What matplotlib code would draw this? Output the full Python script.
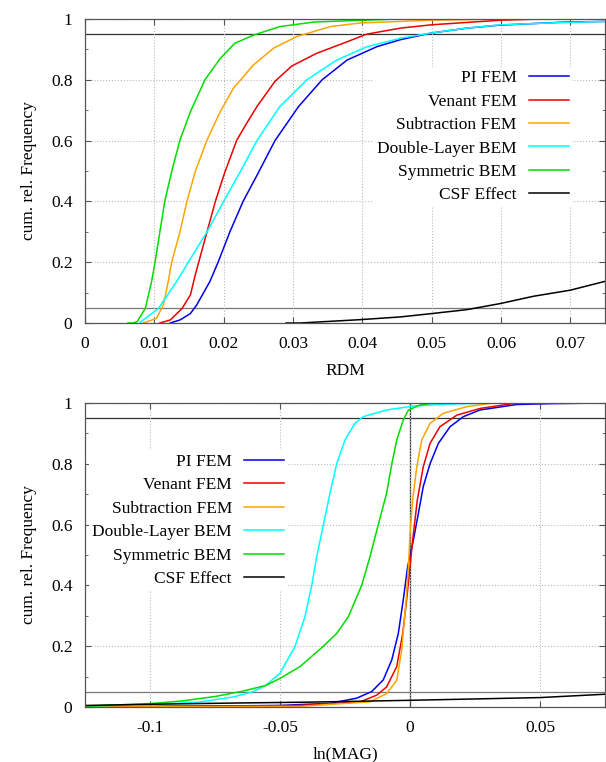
import matplotlib
matplotlib.use('Agg')
import matplotlib.pyplot as plt
from matplotlib.ticker import MultipleLocator, FixedLocator

plt.rcParams['font.family'] = ['Liberation Serif', 'DejaVu Serif']
plt.rcParams['axes.unicode_minus'] = False

labels = ['PI FEM', 'Venant FEM', 'Subtraction FEM', 'Double-Layer BEM', 'Symmetric BEM', 'CSF Effect']
colors = ['#0000ee', '#ee0000', '#ffa500', '#00ffff', '#00dd00', '#000000']

# ---- top panel: RDM (x values, cumulative frequency) ----
rdm_pi_x = [0.0123, 0.0137, 0.0152, 0.0161, 0.018, 0.0192, 0.0209, 0.0228, 0.0249, 0.0274, 0.0308,
            0.0342, 0.0378, 0.0421, 0.0455, 0.050, 0.0551, 0.0599, 0.0695, 0.075]
rdm_pi_f = [0.0, 0.01, 0.031, 0.059, 0.136, 0.2, 0.3, 0.4, 0.49, 0.6, 0.712,
            0.8, 0.865, 0.909, 0.932, 0.954, 0.97, 0.98, 0.99, 0.992]

rdm_venant_x = [0.0108, 0.0123, 0.014, 0.0152, 0.0159, 0.0164, 0.0176, 0.0188, 0.0202, 0.0219, 0.0234,
                0.0248, 0.0274, 0.0298, 0.0334, 0.0378, 0.0406, 0.0455, 0.050, 0.0599, 0.066, 0.075]
rdm_venant_f = [0.0, 0.01, 0.048, 0.092, 0.158, 0.2, 0.3, 0.4, 0.498, 0.602, 0.66,
                0.712, 0.795, 0.845, 0.887, 0.925, 0.95, 0.97, 0.981, 0.996, 1.0, 1.0]

rdm_sub_x = [0.0084, 0.0103, 0.0113, 0.012, 0.0125, 0.0137, 0.0147, 0.0159, 0.0176, 0.0195, 0.0214,
             0.0243, 0.0272, 0.0305, 0.0354, 0.0397, 0.050, 0.060, 0.075]
rdm_sub_f = [0.0, 0.015, 0.059, 0.136, 0.2, 0.3, 0.4, 0.498, 0.602, 0.695, 0.772,
             0.849, 0.904, 0.942, 0.975, 0.987, 0.996, 1.0, 1.0]

rdm_dl_x = [0.0079, 0.0084, 0.0106, 0.0132, 0.0149, 0.0176, 0.02, 0.0224, 0.0248, 0.0281, 0.032,
            0.0363, 0.0407, 0.0435, 0.0455, 0.050, 0.0551, 0.0599, 0.0695, 0.075]
rdm_dl_f = [0.0, 0.01, 0.048, 0.136, 0.2, 0.3, 0.4, 0.498, 0.6, 0.712, 0.8,
            0.865, 0.909, 0.925, 0.937, 0.954, 0.97, 0.981, 0.989, 0.992]

rdm_sym_x = [0.0062, 0.0069, 0.0075, 0.0087, 0.0096, 0.0101, 0.0108, 0.0115, 0.0125, 0.0137, 0.0152,
             0.0173, 0.0195, 0.0216, 0.0243, 0.0281, 0.033, 0.045, 0.075]
rdm_sym_f = [0.0, 0.0, 0.004, 0.048, 0.136, 0.2, 0.3, 0.4, 0.498, 0.602, 0.695,
             0.8, 0.87, 0.92, 0.947, 0.975, 0.99, 1.0, 1.0]

rdm_csf_x = [0.029, 0.031, 0.0397, 0.0455, 0.050, 0.0551, 0.0599, 0.0647, 0.070, 0.075]
rdm_csf_f = [0.0, 0.0, 0.011, 0.02, 0.031, 0.044, 0.064, 0.088, 0.108, 0.137]

# ---- bottom panel: ln(MAG) ----
mag_pi_x = [-0.125, -0.05, -0.0425, -0.0308, -0.0205, -0.0147, -0.0103, -0.007, -0.0045, -0.0026, -0.0009,
            0.0013, 0.0032, 0.0051, 0.0077, 0.0109, 0.0154, 0.0205, 0.0269, 0.041, 0.055, 0.075]
mag_pi_f = [0.0, 0.005, 0.008, 0.012, 0.029, 0.051, 0.089, 0.155, 0.242, 0.352, 0.462,
            0.549, 0.636, 0.725, 0.80, 0.867, 0.922, 0.955, 0.977, 0.995, 0.998, 1.0]

mag_venant_x = [-0.125, -0.0425, -0.0192, -0.0128, -0.009, -0.0051, -0.0028, -0.0013, 0.0, 0.0013,
                0.0028, 0.0051, 0.0077, 0.0115, 0.018, 0.0269, 0.041, 0.075]
mag_venant_f = [0.0, 0.005, 0.017, 0.039, 0.066, 0.133, 0.242, 0.352, 0.462, 0.57,
                0.68, 0.79, 0.867, 0.922, 0.96, 0.982, 1.0, 1.0]

mag_sub_x = [-0.125, -0.0425, -0.0154, -0.009, -0.0051, -0.0032, -0.0015, -0.0006, 0.0, 0.001,
             0.0026, 0.0045, 0.0077, 0.0128, 0.0218, 0.032, 0.075]
mag_sub_f = [0.0, 0.002, 0.017, 0.044, 0.088, 0.187, 0.352, 0.462, 0.57, 0.68,
             0.79, 0.878, 0.933, 0.966, 0.988, 1.0, 1.0]

mag_dl_x = [-0.125, -0.1, -0.081, -0.068, -0.0605, -0.0555, -0.05, -0.0442, -0.0404, -0.0378, -0.0359,
            -0.0333, -0.0308, -0.0282, -0.025, -0.0212, -0.018, -0.009, 0.0013, 0.014, 0.03, 0.075]
mag_dl_f = [0.003, 0.008, 0.016, 0.033, 0.05, 0.071, 0.111, 0.2, 0.297, 0.4, 0.494,
            0.6, 0.703, 0.80, 0.878, 0.933, 0.955, 0.977, 0.99, 0.996, 1.0, 1.0]

mag_sym_x = [-0.125, -0.1, -0.0875, -0.0747, -0.0644, -0.0554, -0.05, -0.0423, -0.0333, -0.0282, -0.0237,
             -0.0186, -0.0154, -0.0122, -0.009, -0.007, -0.0051, -0.0026, -0.0006, 0.0038, 0.009, 0.075]
mag_sym_f = [0.003, 0.011, 0.02, 0.035, 0.052, 0.071, 0.094, 0.133, 0.2, 0.242, 0.297,
             0.4, 0.494, 0.6, 0.703, 0.80, 0.878, 0.944, 0.977, 0.993, 1.0, 1.0]

mag_csf_x = [-0.125, -0.1, -0.068, -0.0387, 0.0, 0.05, 0.075]
mag_csf_f = [0.005, 0.009, 0.013, 0.016, 0.022, 0.031, 0.042]

top_series = [(rdm_pi_x, rdm_pi_f), (rdm_venant_x, rdm_venant_f), (rdm_sub_x, rdm_sub_f),
              (rdm_dl_x, rdm_dl_f), (rdm_sym_x, rdm_sym_f), (rdm_csf_x, rdm_csf_f)]
bottom_series = [(mag_pi_x, mag_pi_f), (mag_venant_x, mag_venant_f), (mag_sub_x, mag_sub_f),
                 (mag_dl_x, mag_dl_f), (mag_sym_x, mag_sym_f), (mag_csf_x, mag_csf_f)]

W, H = 606, 762
fig = plt.figure(figsize=(W / 100, H / 100), dpi=100)
ax1 = fig.add_axes([85 / W, 1 - 323 / H, 520 / W, 304 / H])
ax2 = fig.add_axes([85 / W, 1 - 707 / H, 520 / W, 304 / H])


def style_axes(ax):
    ax.set_ylim(0, 1)
    ax.yaxis.set_major_locator(MultipleLocator(0.2))
    ax.yaxis.set_minor_locator(MultipleLocator(0.1))
    ax.yaxis.set_major_formatter(plt.FuncFormatter(lambda v, p: f'{v:g}'))
    ax.xaxis.set_major_formatter(plt.FuncFormatter(lambda v, p: f'{v:g}'))
    ax.grid(True, color='#bbbbbb', linestyle=':', linewidth=0.8)
    ax.tick_params(which='both', direction='in', top=True, right=True, labelsize=12.5, color='#555555')
    ax.tick_params(which='major', length=4, pad=9)
    ax.tick_params(which='minor', length=2.5)
    for s in ax.spines.values():
        s.set_color('#555555')
        s.set_linewidth(0.9)
    ax.axhline(0.05, color='#777777', lw=0.9, zorder=1)
    ax.axhline(0.95, color='#333333', lw=0.9, zorder=1)
    ax.set_ylabel('cum. rel. Frequency', fontsize=12.5, labelpad=10)


def add_legend(ax, right, top):
    leg = ax.legend(loc='upper right', bbox_to_anchor=(right, top), markerfirst=False, frameon=True,
                    fontsize=12.5, handlelength=2.3, handletextpad=0.7, labelspacing=0.42,
                    borderpad=0.2)
    leg.get_frame().set_facecolor('white')
    leg.get_frame().set_edgecolor('none')
    leg.get_frame().set_alpha(1)


# top panel
style_axes(ax1)
ax1.set_xlim(0, 0.075)
ax1.xaxis.set_major_locator(FixedLocator([0, 0.01, 0.02, 0.03, 0.04, 0.05, 0.06, 0.07]))
for (x, f), lab, c in zip(top_series, labels, colors):
    ax1.plot(x, f, color=c, lw=1.1, label=lab)
ax1.set_xlabel('RDM', fontsize=12.5, labelpad=8)
add_legend(ax1, 0.954, 0.872)

# bottom panel
style_axes(ax2)
ax2.set_xlim(-0.125, 0.075)
ax2.xaxis.set_major_locator(FixedLocator([-0.1, -0.05, 0, 0.05]))
ax2.axvline(0, color='#333333', lw=0.9, zorder=1)
for (x, f), lab, c in zip(bottom_series, labels, colors):
    ax2.plot(x, f, color=c, lw=1.1, label=lab)
ax2.set_xlabel('ln(MAG)', fontsize=12.5, labelpad=8)
add_legend(ax2, 0.406, 0.873)

fig.savefig('out.png', dpi=100)
